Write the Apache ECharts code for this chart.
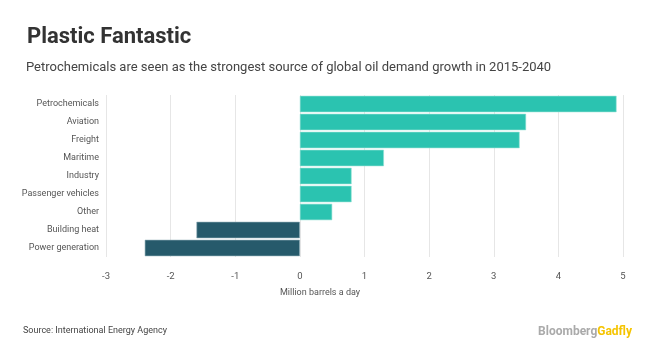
<!DOCTYPE html>
<html><head><meta charset="utf-8">
<script src="https://cdn.jsdelivr.net/npm/echarts@6/dist/echarts.min.js"></script>
<style>html,body{margin:0;padding:0;background:#fff}#c{width:660px;height:360px}</style>
</head><body><div id="c"></div>
<script>
const categories = ["Petrochemicals","Aviation","Freight","Maritime","Industry","Passenger vehicles","Other","Building heat","Power generation"];
const values = [4.9, 3.5, 3.4, 1.3, 0.8, 0.8, 0.5, -1.6, -2.4];
const xTicks = {min: -3, max: 5, interval: 1};
const FONT = "Roboto";
const chart = echarts.init(document.getElementById('c'), null, {renderer: 'canvas'});
chart.setOption({
  backgroundColor: '#fff',
  animation: false,
  title: [
    {text: 'Plastic Fantastic', left: 22, top: 21, textStyle: {fontFamily: FONT, fontWeight: 'bold', fontSize: 22, color: '#333'}},
    {text: 'Petrochemicals are seen as the strongest source of global oil demand growth in 2015-2040', left: 21, top: 56, textStyle: {fontFamily: FONT, fontWeight: 'normal', fontSize: 13, color: '#444'}},
    {text: 'Source: International Energy Agency', left: 18, top: 321, textStyle: {fontFamily: FONT, fontWeight: 'normal', fontSize: 9, color: '#444'}},
    {text: '{a|Bloomberg}{b|Gadfly}', right: 23, top: 321, textStyle: {rich: {a: {fontFamily: FONT, fontSize: 12, color: '#aaa', fontWeight: 'bold'}, b: {fontFamily: FONT, fontSize: 12, color: '#f5c400', fontWeight: 'bold'}}}}
  ],
  graphic: [{type: 'text', left: 280, top: 288, style: {text: 'Million barrels a day', font: '9px Roboto', fill: '#555'}}],
  grid: {left: 106, right: 37, top: 95, bottom: 103},
  xAxis: {
    type: 'value', min: xTicks.min, max: xTicks.max, interval: xTicks.interval,
    axisLine: {show: false}, axisTick: {show: false},
    splitLine: {lineStyle: {color: '#e6e6e6', width: 1}},
    axisLabel: {fontFamily: FONT, fontSize: 9.5, color: '#555', margin: 15}
  },
  yAxis: {
    type: 'category', data: categories, inverse: true,
    axisLine: {show: false}, axisTick: {show: false}, splitLine: {show: false},
    axisLabel: {fontFamily: FONT, fontSize: 9, color: '#555', margin: 7}
  },
  series: [{
    type: 'bar', barCategoryGap: '9%',
    data: values.map(v => ({value: v, itemStyle: {color: v >= 0 ? '#2bc3b0' : '#265a6b', borderColor: v >= 0 ? '#8fe0d4' : '#8aa9b3', borderWidth: 0.6}}))
  }]
});
</script></body></html>
